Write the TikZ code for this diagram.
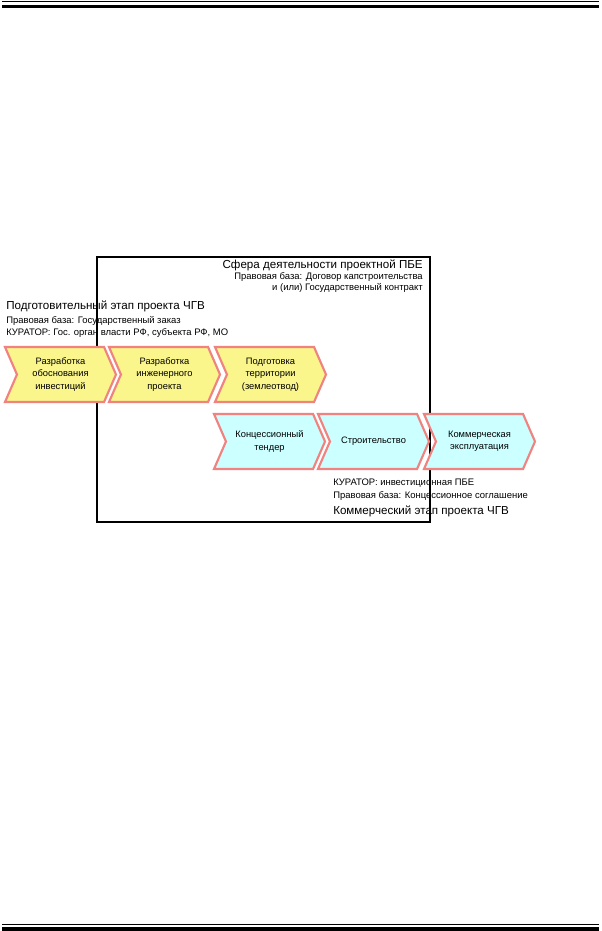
\documentclass[tikz,border=0pt]{standalone}
\usepackage{fontspec}
\setmainfont{Liberation Sans}
\usetikzlibrary{shapes.symbols}
\definecolor{chevyellow}{RGB}{250,246,140}
\definecolor{chevcyan}{RGB}{204,255,255}
\definecolor{chevedge}{RGB}{240,130,128}
\tikzset{
  chev/.style={signal, signal from=west, signal to=east, signal pointer angle=133,
    minimum width=83.25pt, minimum height=41.25pt, inner sep=0pt,
    draw=chevedge, line width=1.6pt, align=center,
    font=\fontsize{7}{9.2}\selectfont},
  prep/.style={chev, fill=chevyellow},
  comm/.style={chev, fill=chevcyan},
  big/.style={inner sep=0pt, font=\fontsize{8.7}{11}\selectfont},
  small/.style={inner sep=0pt, font=\fontsize{7.1}{9}\selectfont}
}
\begin{document}
\begin{tikzpicture}[x=0.75pt,y=-0.75pt]
\useasboundingbox (0,0) rectangle (601,931);
% page rules
\draw[line width=0.9pt] (2,1.7) -- (599,1.7);
\draw[line width=2.3pt] (2,6.1) -- (599,6.1);
\draw[line width=0.9pt] (2,924.5) -- (599,924.5);
\draw[line width=3.2pt] (2,928.8) -- (599,928.8);
% sphere of the project unit
\draw[line width=0.8pt] (97,257) rectangle (430,522);
\node[big, anchor=base east] (sfera) at (423,268) {Сфера деятельности проектной ПБЕ};
\node[small, anchor=base east] (sferabase) at (423,279) {Правовая база: Договор капстроительства};
\node[small, anchor=base east] (sferabase2) at (423,290) {и (или) Государственный контракт};
% preparatory stage
\node[big, anchor=base west] (prepname) at (6,309) {Подготовительный этап проекта ЧГВ};
\node[small, anchor=base west] (prepbase) at (6,323) {Правовая база: Государственный заказ};
\node[small, anchor=base west] (prepcur) at (6,335) {КУРАТОР: Гос. орган власти РФ, субъекта РФ, МО};
\node[prep] (obosn) at (60.5,374.5) {Разработка\\обоснования\\инвестиций};
\node[prep] (inzh) at (164.5,374.5) {Разработка\\инженерного\\проекта};
\node[prep] (terr) at (270.5,374.5) {Подготовка\\территории\\(землеотвод)};
% commercial stage
\node[comm] (tender) at (269.5,441.5) {Концессионный\\тендер};
\node[comm] (stroi) at (373.5,441.5) {Строительство};
\node[comm] (expl) at (479.5,441.5) {Коммерческая\\эксплуатация};
\node[small, anchor=base west] (commcur) at (333,485) {КУРАТОР: инвестиционная ПБЕ};
\node[small, anchor=base west] (commbase) at (333,498.5) {Правовая база: Концессионное соглашение};
\node[big, anchor=base west] (commname) at (333,514) {Коммерческий этап проекта ЧГВ};
\end{tikzpicture}
\end{document}
